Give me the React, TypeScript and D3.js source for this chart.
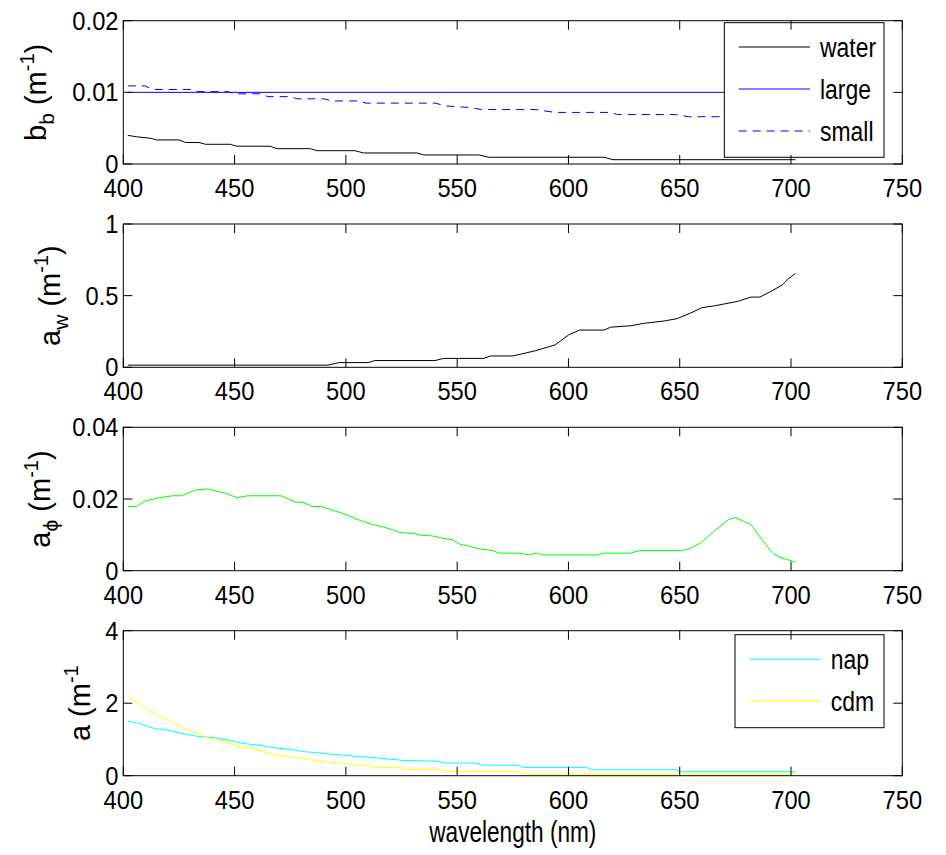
import React from "react";
import * as d3 from "d3";

// ---------- data ----------
const X_TICKS = [400, 450, 500, 550, 600, 650, 700, 750];

// panel 1: backscattering
const bbWaterWl = [402, 406, 412, 415, 425, 428, 434, 437, 448, 451, 466, 469, 484, 487, 504, 508, 532, 535, 560, 564, 616, 620, 702];
const bbWaterVal = [0.004, 0.0038, 0.0036, 0.00336, 0.00336, 0.003, 0.003, 0.00275, 0.00275, 0.00248, 0.00248, 0.00214, 0.00214, 0.00186, 0.00186, 0.00154, 0.00154, 0.00126, 0.00126, 0.00094, 0.00094, 0.0006, 0.0006];
const bbLargeWl = [402, 702];
const bbLargeVal = [0.01, 0.01];
const bbSmallWl = [402, 410, 413, 430, 434, 447, 450, 462, 465, 475, 478, 490, 494, 505, 509, 540, 545, 555, 561, 585, 594, 619, 622, 648, 654, 672, 676, 702];
const bbSmallVal = [0.0109, 0.0109, 0.0104, 0.0104, 0.0101, 0.0101, 0.0098, 0.0098, 0.0094, 0.0094, 0.0091, 0.0091, 0.0088, 0.0088, 0.0085, 0.0085, 0.0081, 0.0079, 0.0076, 0.0076, 0.0072, 0.0072, 0.0069, 0.0069, 0.0066, 0.0066, 0.0064, 0.0064];
const bbTicks = [0, 0.01, 0.02];
const bbTickLabels = ["0", "0.01", "0.02"];

// panel 2: water absorption
const awWl = [402, 492, 497, 510, 513, 540, 544, 562, 565, 575, 585, 594, 600, 605, 616, 619, 628, 634, 643, 649, 655, 660, 666, 676, 682, 686, 691, 696, 699, 702];
const awVal = [0.015, 0.015, 0.033, 0.033, 0.047, 0.047, 0.062, 0.062, 0.079, 0.079, 0.115, 0.156, 0.225, 0.26, 0.26, 0.28, 0.29, 0.307, 0.323, 0.34, 0.38, 0.416, 0.43, 0.46, 0.49, 0.49, 0.53, 0.574, 0.62, 0.655];
const awTicks = [0, 0.5, 1];
const awTickLabels = ["0", "0.5", "1"];

// panel 3: phytoplankton absorption
const aphWl = [402, 406, 410, 416, 422, 426, 433, 438, 446, 451, 456, 471, 477, 481, 485, 489, 494, 500, 506, 512, 518, 525, 530, 534, 539, 543, 548, 551, 555, 560, 566, 569, 578, 582, 586, 588, 613, 616, 628, 632, 651, 655, 659, 663, 668, 672, 675, 682, 687, 692, 696, 699, 702];
const aphVal = [0.0179, 0.0179, 0.0195, 0.0203, 0.0209, 0.0209, 0.0226, 0.0228, 0.0216, 0.0204, 0.0209, 0.0209, 0.0192, 0.019, 0.0179, 0.0179, 0.0169, 0.0157, 0.0141, 0.0129, 0.012, 0.0106, 0.0104, 0.0099, 0.0097, 0.0091, 0.0086, 0.0074, 0.0069, 0.0061, 0.0056, 0.0049, 0.0049, 0.0044, 0.0049, 0.0044, 0.0044, 0.0049, 0.0049, 0.0056, 0.0056, 0.0063, 0.0076, 0.0097, 0.0123, 0.0143, 0.0148, 0.0129, 0.0086, 0.0048, 0.0035, 0.003, 0.0024];
const aphTicks = [0, 0.02, 0.04];
const aphTickLabels = ["0", "0.02", "0.04"];

// panel 4: nap / cdm absorption
const napWl = [402, 408, 414, 420, 426, 433, 442, 448, 454, 461, 467, 475, 482, 491, 502, 514, 526, 541, 545, 558, 561, 577, 580, 608, 611, 648, 651, 702];
const napVal = [1.5, 1.43, 1.3, 1.26, 1.17, 1.09, 1.04, 0.97, 0.89, 0.84, 0.78, 0.72, 0.66, 0.61, 0.55, 0.49, 0.42, 0.4, 0.35, 0.35, 0.29, 0.29, 0.23, 0.23, 0.166, 0.166, 0.11, 0.11];
const cdmWl = [402, 408, 413, 419, 425, 433, 439, 446, 452, 460, 466, 473, 481, 488, 496, 500, 503, 510, 512, 524, 527, 542, 545, 578, 581, 702];
const cdmVal = [2.18, 1.95, 1.75, 1.58, 1.35, 1.17, 1.03, 0.92, 0.8, 0.73, 0.61, 0.54, 0.47, 0.4, 0.35, 0.33, 0.29, 0.29, 0.23, 0.23, 0.17, 0.17, 0.11, 0.11, 0.046, 0.046];
const aTicks = [0, 2, 4];
const aTickLabels = ["0", "2", "4"];

const legend1Labels = ["water", "large", "small"];
const legend4Labels = ["nap", "cdm"];
const xLabel = "wavelength (nm)";

// ---------- layout ----------
const FONT = "'Liberation Sans', Arial, Helvetica, sans-serif";
const X0 = 123.3;
const X1 = 902.3;
const TICK = 9;
const TICK_FONT = 25.5;
const TICK_SCALE = 0.93;

type Series = { wl: number[]; val: number[]; color: string; dash?: string };
type LabelPart = { t: string; kind?: "sub" | "sup" };
type Panel = {
  top: number;
  bottom: number;
  domain: [number, number];
  ticks: number[];
  tickLabels: string[];
  series: Series[];
  ylabel: LabelPart[];
  ylabelX: number;
};

const zip = (wl: number[], val: number[]) => wl.map((w, i) => [w, val[i]] as [number, number]);

const panels: Panel[] = [
  {
    top: 20.7,
    bottom: 164,
    domain: [0, 0.02],
    ticks: bbTicks,
    tickLabels: bbTickLabels,
    series: [
      { wl: bbWaterWl, val: bbWaterVal, color: "#000000" },
      { wl: bbLargeWl, val: bbLargeVal, color: "#0000ff" },
      { wl: bbSmallWl, val: bbSmallVal, color: "#0000ff", dash: "8,6" },
    ],
    ylabel: [{ t: "b" }, { t: "b", kind: "sub" }, { t: " (m" }, { t: "-1", kind: "sup" }, { t: ")" }],
    ylabelX: 46,
  },
  {
    top: 224,
    bottom: 367.3,
    domain: [0, 1],
    ticks: awTicks,
    tickLabels: awTickLabels,
    series: [{ wl: awWl, val: awVal, color: "#000000" }],
    ylabel: [{ t: "a" }, { t: "w", kind: "sub" }, { t: " (m" }, { t: "-1", kind: "sup" }, { t: ")" }],
    ylabelX: 60,
  },
  {
    top: 427.3,
    bottom: 570.7,
    domain: [0, 0.04],
    ticks: aphTicks,
    tickLabels: aphTickLabels,
    series: [{ wl: aphWl, val: aphVal, color: "#00ff00" }],
    ylabel: [{ t: "a" }, { t: "\u03D5", kind: "sub" }, { t: " (m" }, { t: "-1", kind: "sup" }, { t: ")" }],
    ylabelX: 50,
  },
  {
    top: 630.7,
    bottom: 775.7,
    domain: [0, 4],
    ticks: aTicks,
    tickLabels: aTickLabels,
    series: [
      { wl: napWl, val: napVal, color: "#00ffff" },
      { wl: cdmWl, val: cdmVal, color: "#ffff00" },
    ],
    ylabel: [{ t: "a" }, { t: " (m" }, { t: "-1", kind: "sup" }],
    ylabelX: 90,
  },
];

const xScale = d3.scaleLinear().domain([400, 750]).range([X0, X1]);

function YLabel({ parts, x, y }: { parts: LabelPart[]; x: number; y: number }) {
  let shift = 0;
  const spans = parts.map((p, i) => {
    let target = 0;
    let size = 29;
    if (p.kind === "sub") {
      target = 8;
      size = 21;
    } else if (p.kind === "sup") {
      target = -12;
      size = 20;
    }
    const dy = target - shift;
    shift = target;
    return (
      <tspan key={i} dy={dy} fontSize={size}>
        {p.t}
      </tspan>
    );
  });
  return (
    <text transform={`translate(${x},${y}) rotate(-90)`} textAnchor="middle" fontFamily={FONT} fontSize={29} fill="#000">
      {spans}
    </text>
  );
}

function Legend({
  box,
  labels,
  series,
  rowY,
  lineX,
  textX,
}: {
  box: [number, number, number, number];
  labels: string[];
  series: Series[];
  rowY: number[];
  lineX: [number, number];
  textX: number;
}) {
  return (
    <g>
      <rect x={box[0]} y={box[1]} width={box[2]} height={box[3]} fill="#fff" stroke="#000" strokeWidth={1} />
      {labels.map((l, i) => (
        <g key={l}>
          <line
            x1={lineX[0]}
            x2={lineX[1]}
            y1={rowY[i]}
            y2={rowY[i]}
            stroke={series[i].color}
            strokeWidth={1}
            strokeDasharray={series[i].dash}
          />
          <text
            transform={`translate(${textX},${rowY[i] + 10}) scale(0.85,1)`}
            fontFamily={FONT}
            fontSize={27}
            fill="#000"
          >
            {l}
          </text>
        </g>
      ))}
    </g>
  );
}

export default function App() {
  return (
    <svg width={946} height={855} style={{ position: "absolute", left: 0, top: 0, background: "#fff" }}>
      <rect x={0} y={0} width={946} height={855} fill="#fff" />
      {panels.map((p, pi) => {
        const y = d3.scaleLinear().domain(p.domain).range([p.bottom, p.top]);
        const line = d3
          .line<[number, number]>()
          .x((d) => xScale(d[0]))
          .y((d) => y(d[1]));
        return (
          <g key={pi}>
            {p.series.map((s, si) => (
              <path
                key={si}
                d={line(zip(s.wl, s.val)) || ""}
                fill="none"
                stroke={s.color}
                strokeWidth={1}
                strokeDasharray={s.dash}
              />
            ))}
            {pi === 0 && (
              <Legend
                box={[724.3, 22.7, 159.7, 134.6]}
                labels={legend1Labels}
                series={p.series}
                rowY={[47, 89, 131]}
                lineX={[738.7, 810]}
                textX={820}
              />
            )}
            {pi === 3 && (
              <Legend
                box={[735, 634.7, 149, 93]}
                labels={legend4Labels}
                series={p.series}
                rowY={[659.3, 700.7]}
                lineX={[749.3, 821]}
                textX={830.7}
              />
            )}
            {/* axes box */}
            <rect x={X0} y={p.top} width={X1 - X0} height={p.bottom - p.top} fill="none" stroke="#000" strokeWidth={1} />
            {/* x ticks */}
            {X_TICKS.map((t) => (
              <g key={"x" + t}>
                <line x1={xScale(t)} x2={xScale(t)} y1={p.bottom} y2={p.bottom - TICK} stroke="#000" strokeWidth={1} />
                <line x1={xScale(t)} x2={xScale(t)} y1={p.top} y2={p.top + TICK} stroke="#000" strokeWidth={1} />
                <text
                  transform={`translate(${xScale(t)},${p.bottom + 33}) scale(${TICK_SCALE},1)`}
                  textAnchor="middle"
                  fontFamily={FONT}
                  fontSize={TICK_FONT}
                  fill="#000"
                >
                  {t}
                </text>
              </g>
            ))}
            {/* y ticks */}
            {p.ticks.map((t, ti) => (
              <g key={"y" + t}>
                <line x1={X0} x2={X0 + TICK} y1={y(t)} y2={y(t)} stroke="#000" strokeWidth={1} />
                <line x1={X1} x2={X1 - TICK} y1={y(t)} y2={y(t)} stroke="#000" strokeWidth={1} />
                <text
                  transform={`translate(118.5,${y(t) + 9}) scale(${TICK_SCALE},1)`}
                  textAnchor="end"
                  fontFamily={FONT}
                  fontSize={TICK_FONT}
                  fill="#000"
                >
                  {p.tickLabels[ti]}
                </text>
              </g>
            ))}
            <YLabel parts={p.ylabel} x={p.ylabelX} y={(p.top + p.bottom) / 2} />
          </g>
        );
      })}
      <text
        transform={`translate(${(X0 + X1) / 2},842) scale(0.78,1)`}
        textAnchor="middle"
        fontFamily={FONT}
        fontSize={29}
        fill="#000"
      >
        {xLabel}
      </text>
    </svg>
  );
}
